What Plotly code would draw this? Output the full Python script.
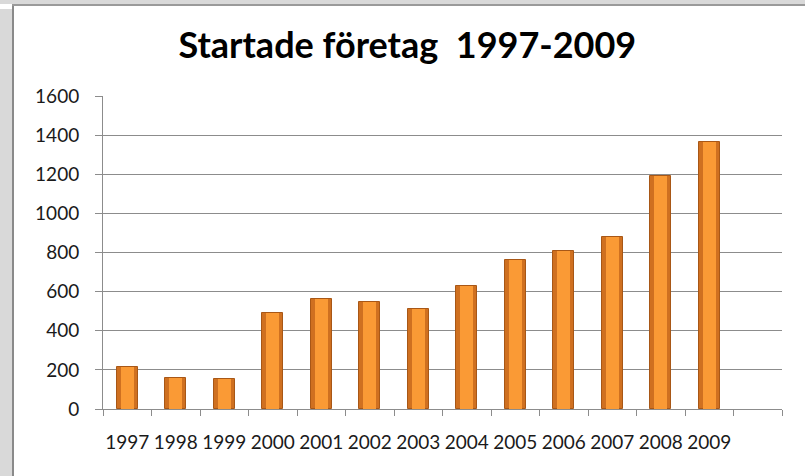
import plotly.graph_objects as go

years = ["1997", "1998", "1999", "2000", "2001", "2002", "2003",
         "2004", "2005", "2006", "2007", "2008", "2009"]
started = [216, 157, 153, 489, 562, 547, 510, 629, 763, 806, 878, 1193, 1365]
y_ticks = [0, 200, 400, 600, 800, 1000, 1200, 1400, 1600]
title_text = "Startade företag  1997-2009"

categories = years + [" "]

fig = go.Figure()
# outer (darker) part of the bevelled bars
fig.add_trace(go.Bar(
    x=years, y=started, width=0.43,
    marker=dict(color="#CF7020", line=dict(color="#A85716", width=1)),
    hoverinfo="x+y", showlegend=False,
))
# lighter centre highlight
fig.add_trace(go.Bar(
    x=years, y=started, width=0.27,
    marker=dict(color="#FA9A35", line=dict(width=0)),
    hoverinfo="skip", showlegend=False,
))

tick_font = dict(family="Lato, 'Open Sans', sans-serif", size=19, color="#1a1a1a")

fig.update_layout(
    width=805, height=476,
    margin=dict(l=103, r=23, t=96, b=67, autoexpand=False),
    paper_bgcolor="white", plot_bgcolor="white",
    barmode="overlay", bargap=0,
    title=dict(text=title_text, x=0.506, xanchor="center", y=0.905, yanchor="middle",
               font=dict(family="Lato, 'Open Sans', sans-serif", size=36, color="#000000",
                         weight="bold")),
    xaxis=dict(type="category", categoryorder="array", categoryarray=categories,
               range=[-0.5, len(categories) - 0.5],
               showline=True, linecolor="#8c8c8c", linewidth=1,
               ticks="outside", tickson="boundaries", ticklen=6, tickcolor="#8c8c8c",
               showgrid=False, tickfont=tick_font, ticklabelstandoff=16,
               tickangle=0, automargin=False, fixedrange=True),
    yaxis=dict(range=[0, 1600], tickvals=y_ticks,
               showline=True, linecolor="#8c8c8c", linewidth=1,
               ticks="outside", ticklen=7, tickcolor="#8c8c8c",
               showgrid=True, gridcolor="#8c8c8c", gridwidth=1,
               zeroline=False, tickfont=tick_font, ticklabelstandoff=12,
               automargin=False, fixedrange=True),
)

# gray frame around the white chart area (pixel-sized shapes anchored on the plot)
fig.add_shape(type="rect", xref="paper", yref="paper", xsizemode="pixel", ysizemode="pixel",
              xanchor=0, yanchor=0, x0=-104, x1=-91, y0=-70, y1=400,
              fillcolor="#d9d9d9", line=dict(width=0), layer="above")
fig.add_shape(type="rect", xref="paper", yref="paper", xsizemode="pixel", ysizemode="pixel",
              xanchor=0, yanchor=1, x0=-104, x1=705, y0=92, y1=100,
              fillcolor="#d9d9d9", line=dict(width=0), layer="above")
fig.add_shape(type="line", xref="paper", yref="paper", xsizemode="pixel", ysizemode="pixel",
              xanchor=0, yanchor=0, x0=-90, x1=-90, y0=-70, y1=405,
              line=dict(color="#8a8a8a", width=2), layer="above")
fig.add_shape(type="line", xref="paper", yref="paper", xsizemode="pixel", ysizemode="pixel",
              xanchor=0, yanchor=1, x0=-91, x1=705, y0=91, y1=91,
              line=dict(color="#9a9a9a", width=2), layer="above")

fig.write_html("out.html", config={"displayModeBar": False},
               post_script="document.body.style.margin='0';document.body.style.overflow='hidden';")
